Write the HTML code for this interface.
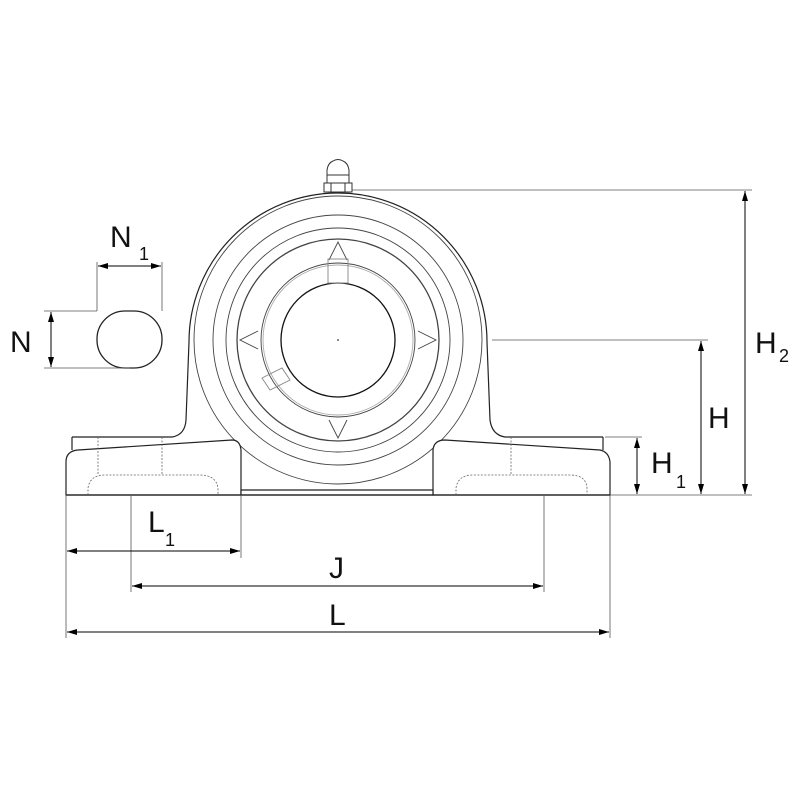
<!DOCTYPE html>
<html><head><style>body{margin:0;background:#fff}svg{display:block}</style></head><body>
<svg width="800" height="800" viewBox="0 0 800 800" xmlns="http://www.w3.org/2000/svg" font-family="Liberation Sans, sans-serif">
<defs>
<marker id="a" viewBox="0 0 10 6" refX="10" refY="3" markerWidth="10" markerHeight="6" orient="auto-start-reverse" markerUnits="userSpaceOnUse"><path d="M0,0L10,3L0,6z" fill="#000"/></marker>
</defs>
<!-- circles -->
<g fill="none" stroke="#444" stroke-width="0.9">
<circle cx="338" cy="340" r="144"/>
<circle cx="338" cy="340" r="125"/>
<circle cx="338" cy="340" r="112"/>
<circle cx="338" cy="340" r="101" stroke-width="1.3"/>
<circle cx="338" cy="340" r="77"/>
<circle cx="338" cy="340" r="75" stroke="#aaa"/>
<circle cx="338" cy="340" r="57" stroke="#111" stroke-width="1.3"/>
<path d="M329,260 L338,242 L347,260 M329,420 L338,438 L347,420 M258,331 L240,340 L258,349 M418,331 L436,340 L418,349"/>
<rect x="328" y="259" width="20" height="24" stroke="#888"/>
<path d="M262,378 L282,368 L290,380 L270,390 Z" stroke="#888"/>
</g>
<circle cx="338" cy="340" r="0.8" fill="#000"/>
<g fill="none" stroke="#222" stroke-width="1.2">
<!-- housing -->
<path d="M72,437 L172,437 Q185,435 186,420 L189,342 A149,149 0 0 1 487,342 L490,420 Q492,435 505,437 L603,437"/>
<path d="M72,437 L72,450 M603,437 L603,450"/>
</g>
<g fill="#fff" stroke="#222" stroke-width="1.2">
<path d="M66,495 L66,462 Q66,451 78,450 L232,440 Q240,440 241,450 L241,495 Z"/>
<path d="M433,495 L433,450 Q434,440 445,440 L600,450 Q609,452 610,462 L610,495 Z"/>
<path d="M241,495 L241,490 L433,490 L433,495 Z"/>
</g>
<line x1="66" y1="495" x2="610" y2="495" stroke="#222" stroke-width="1.2"/>
<g fill="none" stroke="#666" stroke-width="0.8" stroke-dasharray="2,1.5">
<path d="M88,495 L88,488 Q90,475 105,475 L200,475 Q216,475 218,488 L218,495"/>
<line x1="98" y1="437" x2="98" y2="475"/><line x1="162" y1="437" x2="162" y2="475"/>
<path d="M456,495 L456,488 Q458,475 473,475 L570,475 Q586,475 587,488 L587,495"/>
<line x1="511" y1="437" x2="511" y2="475"/>
</g>
<!-- grease nipple -->
<g fill="#fff" stroke="#333" stroke-width="1">
<rect x="324" y="183" width="28" height="9"/>
<line x1="331" y1="183" x2="331" y2="192"/><line x1="345" y1="183" x2="345" y2="192"/>
<path d="M327,183 L327,170 Q328,163 333,161 Q338,158 343,161 Q348,163 349,170 L349,183 Z"/>
<line x1="327" y1="175" x2="349" y2="175"/>
</g>
<!-- N shape -->
<rect x="97" y="311" width="65" height="57" rx="28" fill="none" stroke="#222" stroke-width="1.3"/>
<!-- dimension lines -->
<g stroke="#555" stroke-width="0.8" fill="none">
<line x1="352" y1="190" x2="752" y2="190"/>
<line x1="492" y1="340" x2="708" y2="340"/>
<line x1="605" y1="437" x2="642" y2="437"/>
<line x1="610" y1="495" x2="752" y2="495"/>
<line x1="97" y1="262" x2="97" y2="311"/><line x1="162" y1="262" x2="162" y2="311"/>
<line x1="44" y1="311" x2="97" y2="311"/><line x1="44" y1="368" x2="130" y2="368"/>
<line x1="66" y1="495" x2="66" y2="638"/><line x1="610" y1="495" x2="610" y2="638"/>
<line x1="241" y1="495" x2="241" y2="558"/><line x1="131" y1="495" x2="131" y2="592"/>
<line x1="544" y1="495" x2="544" y2="592"/>
</g>
<g stroke="#000" stroke-width="1" marker-start="url(#a)" marker-end="url(#a)">
<line x1="745" y1="191" x2="745" y2="494"/>
<line x1="701" y1="341" x2="701" y2="494"/>
<line x1="637" y1="438" x2="637" y2="494"/>
<line x1="98" y1="266" x2="161" y2="266"/>
<line x1="51" y1="312" x2="51" y2="367"/>
<line x1="67" y1="551" x2="240" y2="551"/>
<line x1="132" y1="586" x2="543" y2="586"/>
<line x1="67" y1="632" x2="609" y2="632"/>
</g>
<g font-size="30" fill="#111">
<text x="755" y="353">H</text><text x="779" y="362" font-size="18">2</text>
<text x="708" y="428">H</text>
<text x="651" y="473">H</text><text x="676" y="488" font-size="18">1</text>
<text x="110" y="247">N</text><text x="139" y="260" font-size="18">1</text>
<text x="10" y="352">N</text>
<text x="148" y="532">L</text><text x="165" y="546" font-size="18">1</text>
<text x="329" y="578">J</text>
<text x="329" y="625">L</text>
</g>
</svg>
</body></html>
